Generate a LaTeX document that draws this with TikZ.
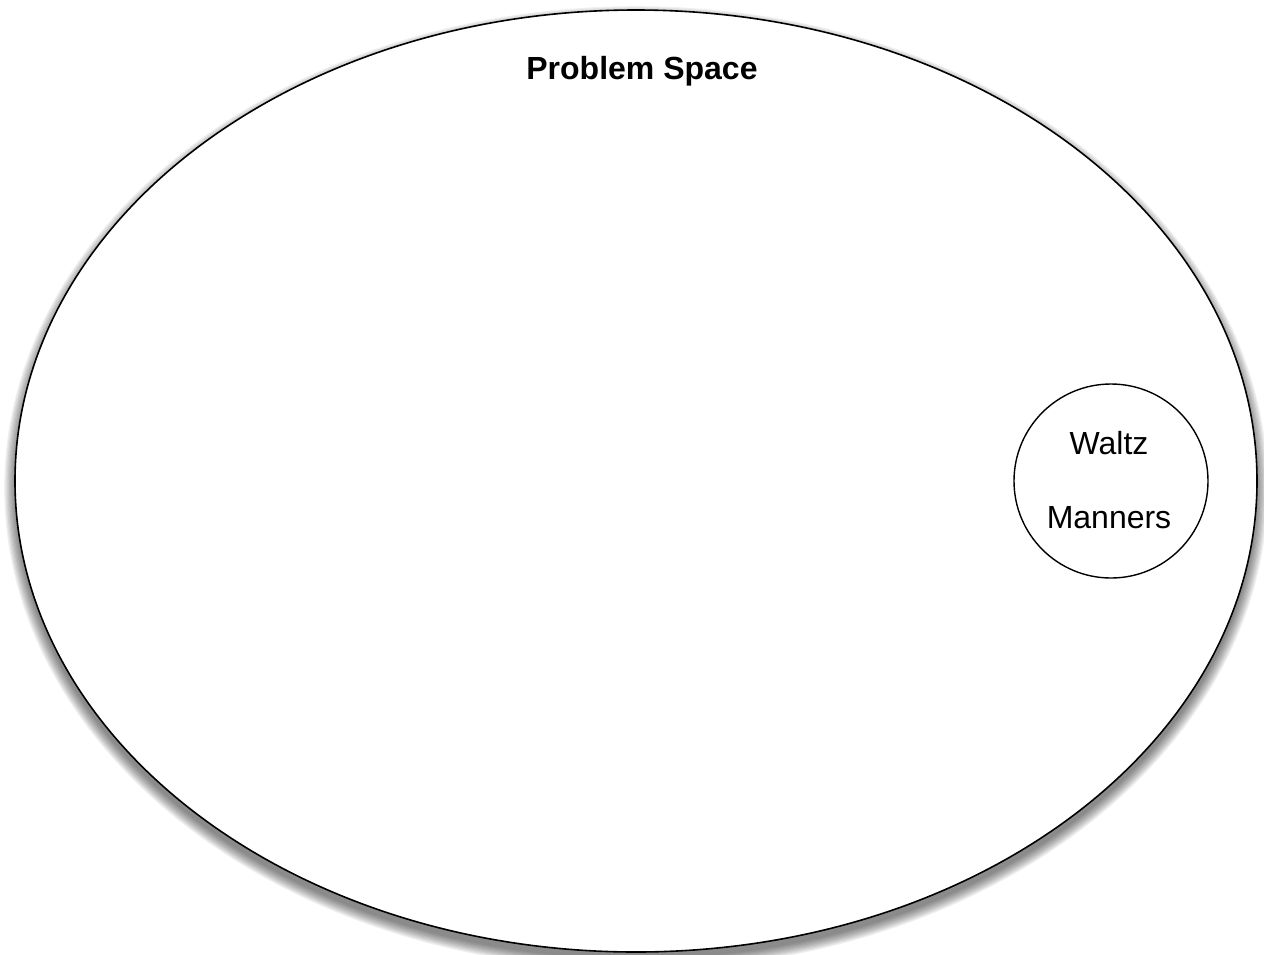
\documentclass[tikz,border=0pt]{standalone}
\usepackage{fontspec}
\setmainfont{Liberation Sans}
\usetikzlibrary{shapes.geometric}

\begin{document}
\begin{tikzpicture}[
  x=0.5pt, y=-0.5pt,
  space/.style={draw, ellipse, line width=0.8pt, fill=white, inner sep=0pt, minimum width=621pt, minimum height=471pt},
  setcircle/.style={draw, circle, line width=0.7pt, inner sep=0pt, minimum size=97pt},
  label/.style={font=\fontsize{16}{19}\selectfont, inner sep=0pt}
]
\useasboundingbox (0,0) rectangle (1264,954);
% blurred shadow under the big ellipse
\foreach \i in {0,...,9}
  \fill[black, opacity=0.06] (636,488) ellipse [x radius=310.5pt+0.6pt*\i, y radius=235.5pt+0.6pt*\i];
\node[space] (problem) at (636,481) {};
\node[label, font=\fontsize{16}{19}\selectfont\bfseries] (title) at (642,71) {Problem Space};
\node[setcircle] (dance) at (1111,481) {};
\node[label] (waltz) at (1109,443) {Waltz};
\node[label] (manners) at (1109,518) {Manners};
\end{tikzpicture}
\end{document}
